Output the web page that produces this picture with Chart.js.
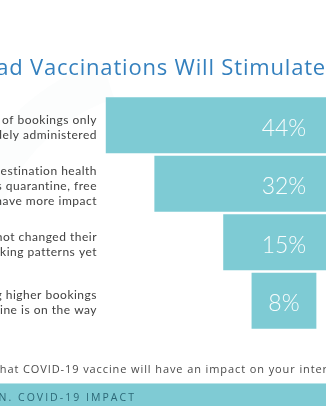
<!DOCTYPE html>
<html>
<head>
<meta charset="utf-8">
<script src="https://cdn.jsdelivr.net/npm/chart.js@4"></script>
<style>
html,body{margin:0;padding:0;background:#fff;overflow:hidden;}
#wrap{position:relative;width:326px;height:406px;}
</style>
</head>
<body>
<div id="wrap"><canvas id="c" width="326" height="406"></canvas></div>
<script>
// ---- data ----
const categories = [
  ["Expect a surge of bookings only", "when vaccine is widely administered"],
  ["Removal of destination health", "restrictions such as quarantine, free", "testing will have more impact"],
  ["Customers have not changed their", "booking patterns yet"],
  ["Already seeing higher bookings", "since vaccine is on the way"]
];
const values = [44, 32, 15, 8];
const valueLabels = ["44%", "32%", "15%", "8%"];
const titlePrefix = "Widespread ";
const titleMain = "Vaccinations Will Stimulate";
const titleSuffix = " Travel";
const footPrefix = "Q: Do you think that ";
const footMain = "COVID-19 vaccine will have an impact on your inter";
const footSuffix = "national bookings?";
const bandPrefix = "2ND EDITION. ";
const bandMain = "COVID-19 IMPACT";

const BAR = "#7ecbd4";

function fitText(ctx, prefix, main, suffix, x0, y, target) {
  // spread letters so that the main part spans the target width
  ctx.letterSpacing = "0px";
  const w = ctx.measureText(main).width;
  const ls = Math.max(0, (target - w) / main.length);
  ctx.letterSpacing = ls + "px";
  const pw = ctx.measureText(prefix).width;
  ctx.fillText(prefix + main + suffix, x0 - pw, y);
  ctx.letterSpacing = "0px";
}

const decor = {
  id: "decor",
  beforeDraw(chart) {
    const ctx = chart.ctx;
    ctx.save();
    ctx.fillStyle = "#ffffff";
    ctx.fillRect(0, 0, chart.width, chart.height);
    // faint swoosh at left
    ctx.strokeStyle = "rgba(120,130,140,0.02)";
    ctx.lineWidth = 40;
    ctx.beginPath();
    ctx.arc(170, 270, 200, Math.PI * 0.95, Math.PI * 1.4);
    ctx.stroke();
    // title
    ctx.fillStyle = "#3480be";
    ctx.font = "22px 'Open Sans', sans-serif";
    ctx.textBaseline = "alphabetic";
    ctx.textAlign = "left";
    fitText(ctx, titlePrefix, titleMain, titleSuffix, 30, 75, 296);
    // footnote
    ctx.fillStyle = "#4a4a4a";
    ctx.font = "11px 'Open Sans', sans-serif";
    fitText(ctx, footPrefix, footMain, footSuffix, 23, 373, 305);
    // band
    ctx.fillStyle = "#7fcbd4";
    ctx.fillRect(0, 383, chart.width, 23);
    ctx.fillStyle = "#b9e4e9";
    ctx.fillRect(0, 383, chart.width, 1);
    ctx.fillStyle = "#2c6776";
    ctx.font = "10.5px 'Open Sans', sans-serif";
    fitText(ctx, bandPrefix, bandMain, "", 18, 401, 118);
    ctx.restore();
  },
  afterDatasetsDraw(chart) {
    const ctx = chart.ctx;
    const meta = chart.getDatasetMeta(0);
    const xs = chart.scales.x;
    const cx = xs.getPixelForValue(0);
    ctx.save();
    meta.data.forEach((el, i) => {
      const y = el.y;
      // value label
      ctx.fillStyle = "rgba(255,255,255,0.95)";
      ctx.font = "300 23px Lato, 'Open Sans', sans-serif";
      ctx.textAlign = "center";
      ctx.textBaseline = "middle";
      ctx.fillText(valueLabels[i], cx, y + 3);
      // category label
      const lines = categories[i];
      ctx.fillStyle = "#404040";
      ctx.font = "12px Lato, 'Open Sans', sans-serif";
      ctx.letterSpacing = "0.5px";
      ctx.textAlign = "right";
      const lh = 15;
      const y0 = y + 2 - (lines.length - 1) * lh / 2;
      lines.forEach((ln, k) => ctx.fillText(ln, 97, y0 + k * lh));
      ctx.letterSpacing = "0px";
    });
    ctx.restore();
  }
};

new Chart(document.getElementById("c"), {
  type: "bar",
  data: {
    labels: categories.map((c, i) => "c" + i),
    datasets: [{
      data: values.map(v => [-v / 2, v / 2]),
      backgroundColor: BAR,
      borderWidth: 0,
      barPercentage: 0.957,
      categoryPercentage: 1
    }]
  },
  options: {
    indexAxis: "y",
    responsive: false,
    animation: false,
    layout: { padding: { top: 96, bottom: 76, left: 0, right: 0 } },
    plugins: { legend: { display: false }, tooltip: { enabled: false } },
    scales: {
      x: { display: false, min: -35.06, max: 5.19 },
      y: { display: false }
    }
  },
  plugins: [decor]
});
</script>
</body>
</html>
